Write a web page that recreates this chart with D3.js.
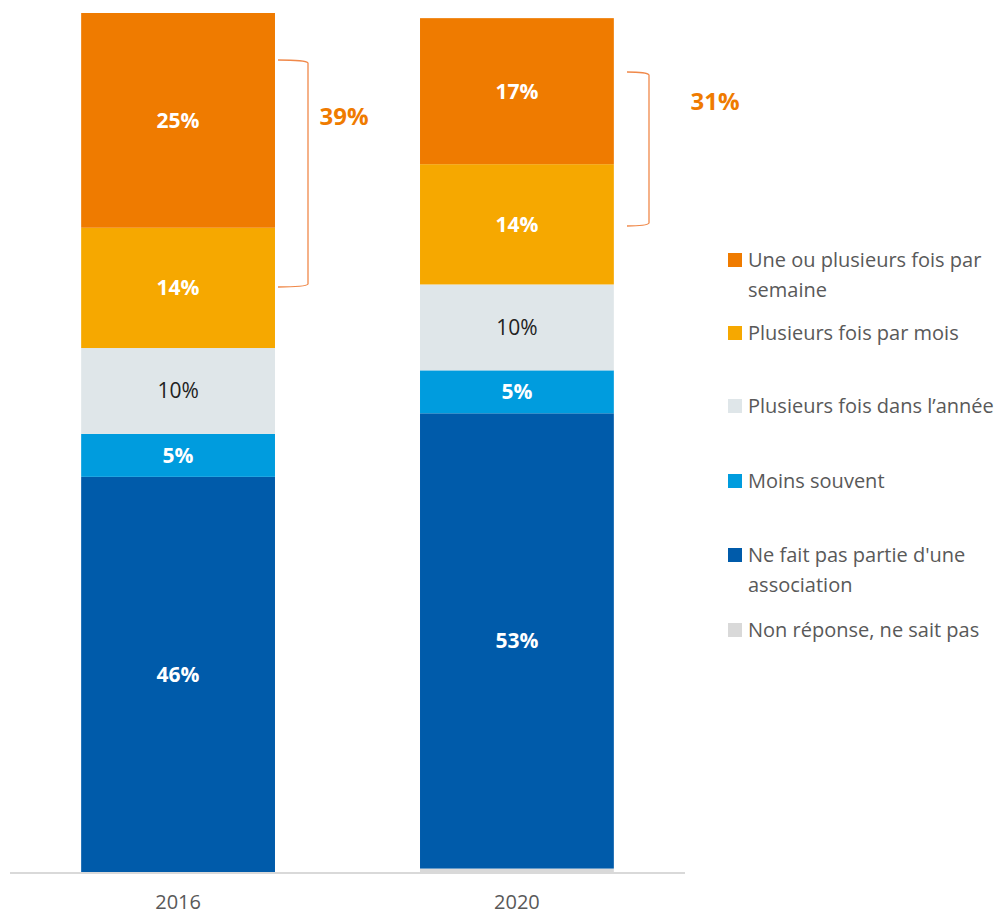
<!DOCTYPE html>
<html><head><meta charset="utf-8">
<script src="https://cdn.jsdelivr.net/npm/d3@7"></script>
<style>body{margin:0;background:#fff;} svg{display:block;font-family:"Open Sans",sans-serif;}</style>
</head><body>
<svg id="c" width="1008" height="915"></svg>
<script>
const years = ["2016", "2020"];
const categories = ["Ne fait pas partie d'une association", "Moins souvent", "Plusieurs fois dans l\u2019année", "Plusieurs fois par mois", "Une ou plusieurs fois par semaine", "Non réponse, ne sait pas"];
const stackOrder = ["Non réponse, ne sait pas", "Ne fait pas partie d'une association", "Moins souvent", "Plusieurs fois dans l\u2019année", "Plusieurs fois par mois", "Une ou plusieurs fois par semaine"];
const values2016 = [0, 46, 5, 10, 14, 25];
const values2020 = [0.4, 53, 5, 10, 14, 17];
const labels2016 = ["", "46%", "5%", "10%", "14%", "25%"];
const labels2020 = ["", "53%", "5%", "10%", "14%", "17%"];
const bracketTotals = ["39%", "31%"];
const legendOrder = ["Une ou plusieurs fois par semaine", "Plusieurs fois par mois", "Plusieurs fois dans l\u2019année", "Moins souvent", "Ne fait pas partie d'une association", "Non réponse, ne sait pas"];
const legendLines = [["Une ou plusieurs fois par", "semaine"], ["Plusieurs fois par mois"], ["Plusieurs fois dans l\u2019année"], ["Moins souvent"], ["Ne fait pas partie d'une", "association"], ["Non réponse, ne sait pas"]];
const colors = ["#d9d9d9", "#005baa", "#009cde", "#dfe6e9", "#f6a800", "#ef7b00"];

const svg = d3.select("#c");
const x = d3.scaleBand().domain(years).range([10, 685]).paddingInner(0.428).paddingOuter(0.21);
const y = d3.scaleLinear().domain([0, 100]).range([872, 13]);
const color = d3.scaleOrdinal().domain(stackOrder).range(colors);

const rows = years.map((yr, i) => {
  const o = {year: yr};
  const v = i === 0 ? values2016 : values2020;
  stackOrder.forEach((k, j) => o[k] = v[j]);
  return o;
});
const series = d3.stack().keys(stackOrder)(rows);
const labelArr = [labels2016, labels2020];

const g = svg.append("g");
series.forEach((s, j) => {
  g.selectAll(null).data(s).enter().append("rect")
    .attr("x", d => x(d.data.year))
    .attr("width", x.bandwidth())
    .attr("y", d => y(d[1]))
    .attr("height", d => Math.max(0, y(d[0]) - y(d[1])))
    .attr("fill", color(s.key));
  g.selectAll(null).data(s).enter().append("text")
    .attr("x", d => x(d.data.year) + x.bandwidth() / 2)
    .attr("y", d => (y(d[0]) + y(d[1])) / 2)
    .attr("dy", "0.35em")
    .attr("text-anchor", "middle")
    .attr("font-size", 21)
    .attr("font-weight", j === 3 ? 400 : 700)
    .attr("fill", j === 3 ? "#222" : "#fff")
    .text((d, i) => labelArr[i][j]);
});

// axis
const ax = svg.append("g").attr("transform", "translate(0,873)")
  .call(d3.axisBottom(x).tickSize(0).tickPadding(22));
ax.select(".domain").attr("stroke", "#d9d9d9").attr("stroke-width", 2).attr("d", "M10,0H685");
ax.selectAll("text").attr("font-size", 20).attr("fill", "#595959").attr("font-family", "Open Sans, sans-serif");

// brackets
const bracketColor = "#f0894a";
const bx = [[278, 308], [627, 649]];
const by = [[60, 287], [72, 226]];
years.forEach((yr, i) => {
  const [y0, y1] = by[i];
  const [a, b] = bx[i];
  svg.append("path")
    .attr("d", `M${a},${y0} Q${b - 2},${y0} ${b},${y0 + 3} V${y1 - 3} Q${b - 2},${y1} ${a},${y1}`)
    .attr("fill", "none").attr("stroke", bracketColor).attr("stroke-width", 1.3);
});
svg.append("text").attr("x", 344).attr("y", 117).attr("dy", "0.35em").attr("text-anchor", "middle")
  .attr("font-size", 24).attr("font-weight", 700).attr("fill", "#ef7b00").text(bracketTotals[0]);
svg.append("text").attr("x", 715).attr("y", 102).attr("dy", "0.35em").attr("text-anchor", "middle")
  .attr("font-size", 24).attr("font-weight", 700).attr("fill", "#ef7b00").text(bracketTotals[1]);

// legend
const legY = [260, 333, 406, 481, 555, 630];
const lg = svg.append("g");
legendOrder.forEach((k, i) => {
  lg.append("rect").attr("x", 728).attr("y", legY[i] - 7).attr("width", 14).attr("height", 14).attr("fill", color(k));
  legendLines[i].forEach((ln, li) => {
    lg.append("text").attr("x", 748).attr("y", legY[i] + li * 30).attr("dy", "0.35em")
      .attr("font-size", 20).attr("fill", "#595959").text(ln);
  });
});
</script>
</body></html>
